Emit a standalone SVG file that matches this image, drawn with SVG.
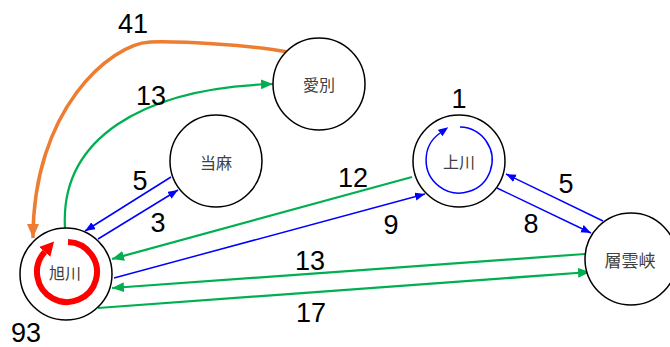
<svg xmlns="http://www.w3.org/2000/svg" width="670" height="347" viewBox="0 0 670 347">
<style>
.node circle{fill:#fff;stroke:#000;stroke-width:1.5}
.node text{font-family:"Noto Sans CJK JP","Noto Sans",sans-serif;font-size:16px;fill:#404040;text-anchor:middle;dominant-baseline:central}
.num{font-family:"Liberation Sans",Arial,sans-serif;font-size:27px;fill:#000;text-anchor:middle}
.blue{stroke:#0000FF;stroke-width:1.5;fill:none}
.green{stroke:#00B050;stroke-width:2.25;fill:none}
.orange{stroke:#ED7D31;stroke-width:3.5;fill:none}
.red{stroke:#FF0000;stroke-width:6;fill:none}
</style>
<defs>
<marker id="ab" markerUnits="userSpaceOnUse" markerWidth="11" markerHeight="9" refX="10" refY="4" orient="auto"><path d="M0,0 L10,4 L0,8 z" fill="#0000FF"/></marker>
<marker id="ag" markerUnits="userSpaceOnUse" markerWidth="13" markerHeight="11" refX="12" refY="5" orient="auto"><path d="M0,0 L12,5 L0,10 z" fill="#00B050"/></marker>
<marker id="ao" markerUnits="userSpaceOnUse" markerWidth="15" markerHeight="13" refX="14" refY="6" orient="auto"><path d="M0,0 L14,6 L0,12 z" fill="#ED7D31"/></marker>
<marker id="ar" markerUnits="userSpaceOnUse" markerWidth="16" markerHeight="16" refX="0" refY="7.5" orient="auto"><path d="M0,0 L14,7.5 L0,15 z" fill="#FF0000"/></marker>
<marker id="abl" markerUnits="userSpaceOnUse" markerWidth="11" markerHeight="9" refX="0" refY="4" orient="auto"><path d="M0,0 L10,4 L0,8 z" fill="#0000FF"/></marker>
</defs>
<g id="connectors">
<path class="orange" d="M288,52 C250,45 180,41 150,42 C110,44 33,110 33,238" marker-end="url(#ao)"/>
<path class="green" d="M65,228 C60,140 140,88 273,84" marker-end="url(#ag)"/>
<path class="blue" d="M171,177 L85,231" marker-end="url(#ab)"/>
<path class="blue" d="M98,239 L178,190" marker-end="url(#ab)"/>
<path class="green" d="M412,177 L112,259" marker-end="url(#ag)"/>
<path class="blue" d="M114,278 L425,194" marker-end="url(#ab)"/>
<path class="blue" d="M497,188 L591,233" marker-end="url(#ab)"/>
<path class="blue" d="M603,221 L506,174" marker-end="url(#ab)"/>
<path class="green" d="M585,254 L112,288" marker-end="url(#ag)"/>
<path class="green" d="M98,308 L590,272" marker-end="url(#ag)"/>
</g>
<g id="n-asahikawa" class="node">
<circle cx="66" cy="274" r="46"/>
<path class="red" d="M68,242 A30,30 0 1 1 44.7,251.9" marker-end="url(#ar)"/>
<text x="65" y="272">旭川</text>
</g>
<g id="n-aibetsu" class="node">
<circle cx="319" cy="84" r="46"/>
<text x="319" y="84">愛別</text>
</g>
<g id="n-touma" class="node">
<circle cx="216" cy="161" r="46"/>
<text x="216" y="162">当麻</text>
</g>
<g id="n-kamikawa" class="node">
<circle cx="459" cy="161" r="46"/>
<path class="blue" d="M460,127 A33,33 0 1 1 440.1,133" marker-end="url(#abl)"/>
<text x="459" y="161">上川</text>
</g>
<g id="n-sounkyo" class="node">
<circle cx="631" cy="259" r="46"/>
<text x="630" y="259" style="font-size:17px">層雲峡</text>
</g>
<g id="labels">
<text class="num" x="133" y="33">41</text>
<text class="num" x="151" y="105">13</text>
<text class="num" x="140" y="190">5</text>
<text class="num" x="158" y="232">3</text>
<text class="num" x="353" y="187">12</text>
<text class="num" x="391" y="234">9</text>
<text class="num" x="310" y="270">13</text>
<text class="num" x="311" y="322">17</text>
<text class="num" x="459" y="108">1</text>
<text class="num" x="566" y="193">5</text>
<text class="num" x="531" y="233">8</text>
<text class="num" x="26" y="342">93</text>
</g>
</svg>
